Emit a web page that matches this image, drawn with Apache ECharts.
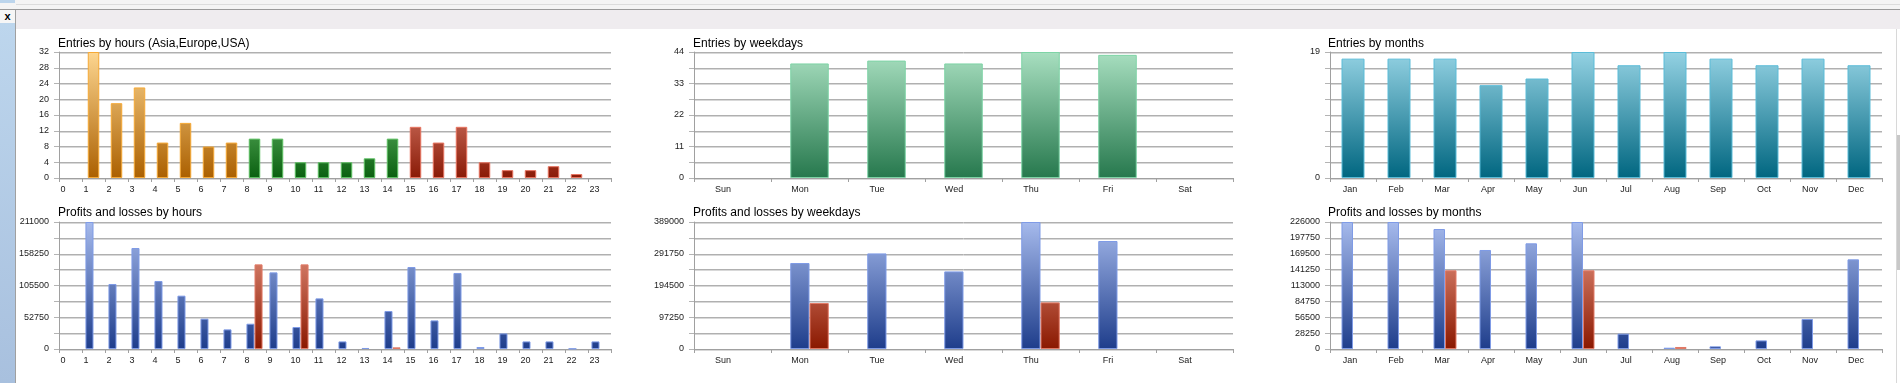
<!DOCTYPE html>
<html><head><meta charset="utf-8">
<script src="https://cdn.jsdelivr.net/npm/echarts@6/dist/echarts.min.js"></script>
<style>
html,body{margin:0;padding:0;width:1900px;height:383px;overflow:hidden;background:#fff;font-family:'Liberation Sans',Arial,sans-serif;}
#topbar{position:absolute;left:0;top:0;width:1900px;height:9px;background:#f4f4f4;border-bottom:1px solid #9a9a9a;}
#topline{position:absolute;left:16px;top:4px;width:1884px;height:1px;background:#dcdcdc;}
#topleft{position:absolute;left:0;top:0;width:15px;height:3px;background:#bcd5ec;}
#leftstrip{position:absolute;left:0;top:23px;width:15px;height:360px;background:linear-gradient(#bdd6ed,#a8c0de);}
#xbtn{position:absolute;left:0;top:10px;width:15px;height:13px;background:#f6f6f6;font:bold 11px 'Liberation Sans',Arial,sans-serif;text-align:center;line-height:12px;color:#000;}
#panelborder{position:absolute;left:15px;top:10px;width:1px;height:373px;background:#a0a0a0;}
#band{position:absolute;left:16px;top:10px;width:1884px;height:19px;background:#efecef;}
#scrollline{position:absolute;left:1896px;top:29px;width:1px;height:354px;background:#d8d8d8;}
#scrollthumb{position:absolute;left:1897px;top:135px;width:3px;height:135px;background:#c8c8c8;}
#chart{position:absolute;left:0;top:0;width:1900px;height:383px;}
</style>
</head>
<body>
<div id="topbar"></div><div id="topline"></div><div id="topleft"></div>
<div id="band"></div>
<div id="xbtn">x</div>
<div id="leftstrip"></div>
<div id="panelborder"></div>
<div id="scrollline"></div><div id="scrollthumb"></div>
<div id="chart"></div>
<script>
// ---------- data ----------
const hourLabels = ['0','1','2','3','4','5','6','7','8','9','10','11','12','13','14','15','16','17','18','19','20','21','22','23'];
const weekdayLabels = ['Sun','Mon','Tue','Wed','Thu','Fri','Sat'];
const monthLabels = ['Jan','Feb','Mar','Apr','May','Jun','Jul','Aug','Sep','Oct','Nov','Dec'];

const hourSession = ['', 'Asia','Asia','Asia','Asia','Asia','Asia','Asia',
  'Europe','Europe','Europe','Europe','Europe','Europe','Europe',
  'USA','USA','USA','USA','USA','USA','USA','USA', ''];

const entriesByHour = [0,32,19,23,9,14,8,9,10,10,4,4,4,5,10,13,9,13,4,2,2,3,1,0];
const profitsByHour = [0,211000,108000,167800,113000,88600,50400,32600,42000,127300,36500,84100,12600,1700,63100,136200,47500,126300,3300,25900,12600,12600,600,12600];
const lossesByHour  = [0,0,0,0,0,0,0,0,140600,0,140600,0,0,0,2700,0,0,0,0,0,0,0,0,0];

const entriesByWeekday = [0,40,41,40,44,43,0];
const profitsByWeekday = [0,263400,292800,237700,389000,330800,0];
const lossesByWeekday  = [0,140900,0,0,142700,0,0];

const entriesByMonth = [18,18,18,14,15,19,17,19,18,17,18,17];
const profitsByMonth = [226000,226000,213500,176200,188000,226000,27300,2300,4700,15300,53400,159500];
const lossesByMonth  = [0,0,140000,0,0,140000,0,3600,0,0,0,0];

// axis scales (max, step)
const axisEntriesHour = [32, 4];
const axisEntriesWeekday = [44, 5.5];
const axisEntriesMonth = [19, 2.375];
const axisProfitHour = [211000, 26375];
const axisProfitWeekday = [389000, 48625];
const axisProfitMonth = [226000, 28250];

const titles = ['Entries by hours (Asia,Europe,USA)','Entries by weekdays','Entries by months',
  'Profits and losses by hours','Profits and losses by weekdays','Profits and losses by months'];

// ---------- layout / style ----------
const FONT = "'Liberation Sans', Arial, sans-serif";
const GRIDS = [
  {left:59, top:52, width:552, height:126},
  {left:694, top:52, width:539, height:126},
  {left:1330, top:52, width:552, height:126},
  {left:59, top:222, width:552, height:127},
  {left:694, top:222, width:539, height:127},
  {left:1330, top:222, width:552, height:127}
];
const TITLE_POS = [[58,38],[693,38],[1328,38],[58,207],[693,207],[1328,207]];

function grad(gi, c0, c1) {
  const g = GRIDS[gi];
  return new echarts.graphic.LinearGradient(0, g.top, 0, g.top + g.height,
    [{offset:0, color:c0}, {offset:1, color:c1}], true);
}
const sessionStyle = {
  Asia:   {c0:'#fdd690', c1:'#ab6000', b:'#f6a935'},
  Europe: {c0:'#a0f0a0', c1:'#0a6010', b:'#5cc062'},
  USA:    {c0:'#ffb0a0', c1:'#8a1a06', b:'#e8735f'}
};

const chart = echarts.init(document.getElementById('chart'));

function xAxis(gi, cats, labelExtra) {
  return {
    type:'category', gridIndex:gi, data:cats, boundaryGap:true,
    axisLine:{show:true, lineStyle:{color:'#a0a0a0', width:1}},
    axisTick:{show:true, length:4, lineStyle:{color:'#a0a0a0'}},
    splitLine:{show:false},
    axisLabel: Object.assign({interval:0, fontSize:9, fontFamily:FONT, color:'#222', margin:7}, labelExtra || {})
  };
}
function yAxis(gi, scale, showFn) {
  return {
    type:'value', gridIndex:gi, min:0, max:scale[0], interval:scale[1],
    axisLine:{show:true, lineStyle:{color:'#a0a0a0'}},
    axisTick:{show:true, length:5, lineStyle:{color:'#b4b4b4'}},
    axisLabel:{fontSize:9, fontFamily:FONT, color:'#222', margin:10,
      formatter:function(v, idx){ return showFn(v, idx) ? String(Math.round(v*1000)/1000) : ''; }},
    splitLine:{show:true, lineStyle:{color:'#b0b0b0', width:1, shadowColor:'#d8d8d8', shadowOffsetY:1, shadowBlur:0}}
  };
}
const all = () => true;
const everyOther = (v, i) => i % 2 === 0;

function val(v) { return v === 0 ? '-' : v; }

function entrySeries(gi, values, styleFn) {
  return {
    type:'bar', xAxisIndex:gi, yAxisIndex:gi, barWidth:'50%',
    data: values.map((v, k) => {
      const s = styleFn(k);
      return {value: val(v), itemStyle:{color: grad(gi, s.c0, s.c1), borderColor: s.b, borderWidth:1}};
    })
  };
}
function plSeries(gi, profits, losses, w) {
  return [
    {type:'bar', name:'Profit', xAxisIndex:gi, yAxisIndex:gi, barWidth:w, barGap:'0%',
     itemStyle:{color: grad(gi, '#a6baec', '#1e3d8b'), borderColor:'#7f9be6', borderWidth:1},
     data: profits.map(val)},
    {type:'bar', name:'Loss', xAxisIndex:gi, yAxisIndex:gi, barWidth:w, barGap:'0%',
     itemStyle:{color: grad(gi, '#f2a592', '#8a1800'), borderColor:'#e27a66', borderWidth:1},
     data: losses.map(val)}
  ];
}

const hourLabelStyle = {
  formatter: v => (v.length === 1 ? '{s|' : '{d|') + v + '}',
  rich: {
    s:{fontSize:9, fontFamily:FONT, color:'#222', padding:[0,15,0,0]},
    d:{fontSize:9, fontFamily:FONT, color:'#222', padding:[0,10,0,0]}
  }
};
const weekdayLabelStyle = {padding:[0,19,0,0]};
const monthLabelStyle = {padding:[0,6,0,0]};

const option = {
  animation:false,
  backgroundColor:'transparent',
  title: titles.map((t, i) => ({
    text:t, left:TITLE_POS[i][0], top:TITLE_POS[i][1], padding:0,
    textStyle:{fontSize:12, fontWeight:'normal', fontFamily:FONT, color:'#000'}
  })),
  grid: GRIDS.map(g => Object.assign({containLabel:false}, g)),
  xAxis: [
    xAxis(0, hourLabels, hourLabelStyle),
    xAxis(1, weekdayLabels, weekdayLabelStyle),
    xAxis(2, monthLabels, monthLabelStyle),
    xAxis(3, hourLabels, hourLabelStyle),
    xAxis(4, weekdayLabels, weekdayLabelStyle),
    xAxis(5, monthLabels, monthLabelStyle)
  ],
  yAxis: [
    yAxis(0, axisEntriesHour, all),
    yAxis(1, axisEntriesWeekday, everyOther),
    yAxis(2, axisEntriesMonth, (v, i) => v === 0 || Math.abs(v - axisEntriesMonth[0]) < 1e-9),
    yAxis(3, axisProfitHour, everyOther),
    yAxis(4, axisProfitWeekday, everyOther),
    yAxis(5, axisProfitMonth, all)
  ],
  series: [
    entrySeries(0, entriesByHour, k => sessionStyle[hourSession[k]] || sessionStyle.Asia),
    entrySeries(1, entriesByWeekday, () => ({c0:'#a8dfc0', c1:'#26784d', b:'#7ed4a6'})),
    entrySeries(2, entriesByMonth, () => ({c0:'#94d2e3', c1:'#006680', b:'#5bbcd8'})),
    ...plSeries(3, profitsByHour, lossesByHour, '35%'),
    ...plSeries(4, profitsByWeekday, lossesByWeekday, '25%'),
    ...plSeries(5, profitsByMonth, lossesByMonth, '25%')
  ]
};
chart.setOption(option);
</script>
</body></html>
